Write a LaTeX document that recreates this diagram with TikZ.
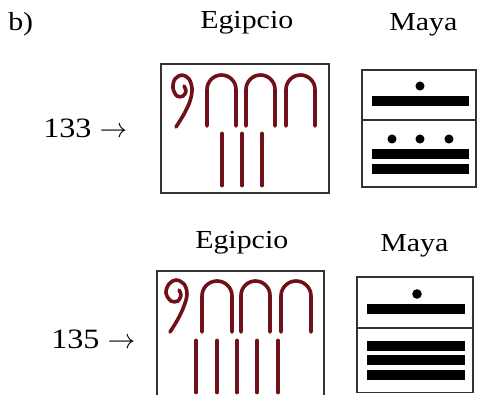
\documentclass[tikz,border=0pt]{standalone}
\usepackage{fontspec}
\setmainfont[FakeStretch=1.15]{Liberation Serif}
\definecolor{egy}{RGB}{112,16,24}
\newcommand\egarch[4]{%
  \pgfmathsetmacro\egM{(#1+#2)/2}\pgfmathsetmacro\egR{(#2-#1)/2}%
  \draw[glyph] (#1,#3) -- (#1,#4+\egR) .. controls (#1,#4+0.448*\egR) and (\egM-0.552*\egR,#4) .. (\egM,#4)
    .. controls (\egM+0.552*\egR,#4) and (#2,#4+0.448*\egR) .. (#2,#4+\egR) -- (#2,#3);}
\begin{document}
\begin{tikzpicture}[x=0.75pt,y=-0.75pt,
  lbl/.style={inner sep=0pt,anchor=base west,font=\fontsize{19.5}{22}\selectfont},
  num/.style={inner sep=0pt,anchor=base west,font=\fontsize{21}{24}\selectfont},
  frame/.style={draw=black!80,line width=0.9pt},
  glyph/.style={draw=egy,line width=2.7pt,line cap=round,line join=round},
  stroke/.style={glyph,line width=3.6pt},
  bar/.style={fill=black},
  dot/.style={fill=black}]
\useasboundingbox (0,0) rectangle (479,394);
\clip (0,0) rectangle (479,394);
\fill[white] (0,0) rectangle (479,394);
% labels
\node[lbl] (b) at (8,30) {b)};
\node[lbl] (eg1) at (200,28) {Egipcio};
\node[lbl] (ma1) at (389,30) {Maya};
\node[lbl] (eg2) at (195,248) {Egipcio};
\node[lbl] (ma2) at (380,251) {Maya};
\node[num] (n1) at (43,137) {133 $\rightarrow$};
\node[num] (n2) at (51,348) {135 $\rightarrow$};
% ---- top Egyptian (133)
\draw[frame] (161,64) rectangle (329,193);
\draw[glyph] plot[smooth,tension=0.6] coordinates {(176,127) (184,114) (190,101) (192,89) (189,79) (182,75) (175,79) (173,88) (177,96) (183,96) (186,91) (184,86)};
\egarch{207}{236}{126}{75}
\egarch{246}{275}{126}{75}
\egarch{286}{315}{126}{75}
\foreach \x in {222,242,262} \draw[stroke] (\x,134) -- (\x,185);
% ---- top Maya (133)
\draw[frame] (362,70) rectangle (476,187);
\draw[frame] (362,120) -- (476,120);
\fill[dot] (420,86) circle[radius=3.4pt];
\fill[bar] (372,96) rectangle (469,106);
\foreach \x in {392,420,449} \fill[dot] (\x,139) circle[radius=3.4pt];
\fill[bar] (372,149) rectangle (469,159);
\fill[bar] (372,164) rectangle (469,174);
% ---- bottom Egyptian (135)
\draw[frame] (157,271) rectangle (324,402);
\draw[glyph] plot[smooth,tension=0.6] coordinates {(170,332) (178,319) (184,306) (187,294) (184,284) (176,280) (169,284) (166,293) (171,301) (178,301) (181,295) (179,290)};
\egarch{202}{232}{332}{281}
\egarch{241}{270}{332}{281}
\egarch{281}{311}{332}{281}
\foreach \x in {196,217,237,257,278} \draw[stroke] (\x,341) -- (\x,392);
% ---- bottom Maya (135)
\draw[frame] (357,277) rectangle (473,392.5);
\draw[frame] (357,328) -- (473,328);
\fill[dot] (417,294) circle[radius=3.6pt];
\fill[bar] (367,304) rectangle (465,314);
\fill[bar] (367,341) rectangle (465,351);
\fill[bar] (367,355) rectangle (465,365);
\fill[bar] (367,370) rectangle (465,380);
\end{tikzpicture}
\end{document}
